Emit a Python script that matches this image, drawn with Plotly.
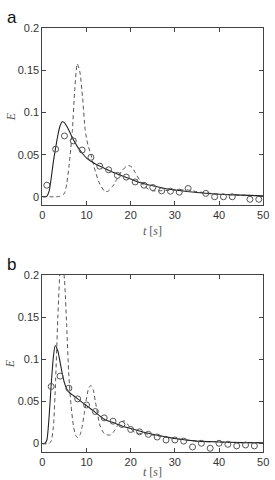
import plotly.graph_objects as go

# ---------- panel a ----------
a_solid_t = [0, 1, 1.5, 2, 2.5, 3, 3.5, 4, 4.5, 5, 5.5, 6, 7, 8, 9, 10, 12, 14, 16, 18, 20, 22, 25, 28, 30, 35, 40, 45, 50]
a_solid_E = [0, 0.0005, 0.006, 0.022, 0.042, 0.058, 0.073, 0.084, 0.089, 0.088, 0.084, 0.079, 0.068, 0.059, 0.052, 0.046, 0.039, 0.034, 0.029, 0.025, 0.021, 0.017, 0.013, 0.0095, 0.008, 0.005, 0.003, 0.002, 0.001]

a_dash_t = [0, 3, 4, 5, 5.5, 6, 6.3, 6.8, 7.3, 7.9, 8.5, 9.1, 9.7, 10.3, 11, 12, 13, 14, 14.4, 15, 16, 17, 18, 19, 19.6, 20.3, 21, 22, 23, 24, 25, 26, 28, 30, 33, 35, 40, 45, 50]
a_dash_E = [0, 0, 0.0005, 0.004, 0.015, 0.035, 0.05, 0.079, 0.125, 0.158, 0.148, 0.118, 0.079, 0.062, 0.05, 0.03, 0.015, 0.007, 0.006, 0.007, 0.013, 0.022, 0.031, 0.036, 0.037, 0.035, 0.029, 0.02, 0.013, 0.009, 0.007, 0.007, 0.0075, 0.008, 0.008, 0.006, 0.003, 0.002, 0.001]

a_pts_t = [1, 3, 5, 7, 9, 11, 13, 15, 17, 19, 21, 23, 25, 27, 29, 31, 33, 37, 39, 41, 43, 47, 49]
a_pts_E = [0.0137, 0.0566, 0.0723, 0.0664, 0.0555, 0.0469, 0.0363, 0.032, 0.0254, 0.0234, 0.0176, 0.0137, 0.011, 0.007, 0.0066, 0.0055, 0.0098, 0.004, 0.0, 0.0, 0.0, -0.003, -0.003]

# ---------- panel b ----------
b_solid_t = [0, 0.5, 1, 1.5, 2, 2.5, 2.9, 3.5, 4, 4.5, 5, 5.5, 6, 7, 8, 10, 12, 14, 16, 18, 20, 22, 25, 28, 30, 35, 40, 45, 50]
b_solid_E = [0, 0, 0.004, 0.03, 0.07, 0.103, 0.116, 0.11, 0.097, 0.083, 0.072, 0.065, 0.061, 0.057, 0.053, 0.045, 0.037, 0.029, 0.025, 0.021, 0.018, 0.015, 0.011, 0.008, 0.006, 0.003, 0.002, 0.0012, 0.001]

b_dash_t = [0, 1.5, 2, 2.5, 3, 3.5, 4, 4.4, 5, 5.5, 6, 6.5, 7, 7.5, 8, 8.5, 9, 9.5, 10, 10.5, 11, 11.5, 12, 12.5, 13, 14, 15.3, 16, 17, 18, 18.5, 19, 20, 21, 22, 23, 25, 28, 30, 35, 40, 45, 50]
b_dash_E = [0, 0, 0.003, 0.02, 0.075, 0.15, 0.205, 0.22, 0.195, 0.14, 0.08, 0.045, 0.022, 0.01, 0.007, 0.01, 0.02, 0.036, 0.054, 0.066, 0.069, 0.064, 0.05, 0.035, 0.022, 0.012, 0.01, 0.013, 0.021, 0.026, 0.027, 0.025, 0.018, 0.013, 0.012, 0.012, 0.01, 0.008, 0.006, 0.003, 0.002, 0.0012, 0.001]

b_pts_t = [2, 4, 6, 8, 10, 12, 14, 16, 18, 20, 22, 24, 26, 28, 30, 32, 34, 36, 38, 40, 42, 44, 46, 48]
b_pts_E = [0.0677, 0.080, 0.0657, 0.053, 0.0458, 0.038, 0.0305, 0.0266, 0.0227, 0.0168, 0.014, 0.011, 0.0078, 0.0043, 0.0043, 0.003, -0.004, 0.0004, -0.0055, 0.0004, -0.0008, -0.0027, -0.0016, -0.0027]

x_ticks = [0, 10, 20, 30, 40, 50]
y_ticks = [0, 0.05, 0.1, 0.15, 0.2]
y_tick_text = ["0", "0.05", "0.1", "0.15", "0.2"]

W, H = 275, 480
fig = go.Figure()

line_col = "#222222"
dash_col = "#555555"
pt_col = "#555555"

def add_panel(xa, ya, st, sE, dt, dE, pt, pE):
    fig.add_trace(go.Scatter(x=dt, y=dE, mode="lines", xaxis=xa, yaxis=ya,
                             line=dict(color=dash_col, width=1, dash="4px,3px", shape="spline", smoothing=0.6),
                             showlegend=False, hoverinfo="skip"))
    fig.add_trace(go.Scatter(x=st, y=sE, mode="lines", xaxis=xa, yaxis=ya,
                             line=dict(color=line_col, width=1.1, shape="spline", smoothing=0.6),
                             showlegend=False, hoverinfo="skip"))
    fig.add_trace(go.Scatter(x=pt, y=pE, mode="markers", xaxis=xa, yaxis=ya,
                             marker=dict(symbol="circle-open", size=6, color=pt_col, line=dict(width=1, color=pt_col)),
                             showlegend=False, hoverinfo="skip", cliponaxis=False))

add_panel("x", "y", a_solid_t, a_solid_E, a_dash_t, a_dash_E, a_pts_t, a_pts_E)
add_panel("x2", "y2", b_solid_t, b_solid_E, b_dash_t, b_dash_E, b_pts_t, b_pts_E)

left, right = 40.7 / W, 269 / W
top_dom = [1 - 201.7 / H, 1 - 22.7 / H]
bot_dom = [1 - 451.7 / H, 1 - 272.3 / H]

ax_common = dict(showgrid=False, zeroline=False, showline=True, linecolor="#444444", linewidth=1,
                 mirror="ticks", ticks="inside", ticklen=4, tickcolor="#444444", tickwidth=1,
                 ticklabeloverflow="allow",
                 tickfont=dict(family="Liberation Sans, Arial", size=11, color="#333333"))

fig.update_layout(
    width=W, height=H, margin=dict(l=0, r=0, t=0, b=0),
    paper_bgcolor="white", plot_bgcolor="white",
    xaxis=dict(domain=[left, right], range=[0, 50], tickvals=x_ticks, anchor="y", **ax_common),
    yaxis=dict(domain=top_dom, range=[-0.01, 0.2], tickvals=y_ticks, ticktext=y_tick_text, anchor="x", **ax_common),
    xaxis2=dict(domain=[left, right], range=[0, 50], tickvals=x_ticks, anchor="y2", **ax_common),
    yaxis2=dict(domain=bot_dom, range=[-0.01, 0.2], tickvals=y_ticks, ticktext=y_tick_text, anchor="x2", **ax_common),
)

lab_font = dict(family="Liberation Serif, Times New Roman", size=12, color="#555555")
ann = [
    dict(text="a", x=2 / W, y=1 - 12 / H, xanchor="left", yanchor="middle",
         font=dict(family="Liberation Sans, Arial", size=17, color="#111111")),
    dict(text="b", x=2 / W, y=1 - 262 / H, xanchor="left", yanchor="middle",
         font=dict(family="Liberation Sans, Arial", size=17, color="#111111")),
    dict(text="<i>E</i>", x=8 / W, y=1 - 112 / H, textangle=-90, xanchor="center", yanchor="middle", font=lab_font),
    dict(text="<i>E</i>", x=8 / W, y=1 - 362 / H, textangle=-90, xanchor="center", yanchor="middle", font=lab_font),
    dict(text="<i>t</i> [<i>s</i>]", x=(left + right) / 2, y=1 - 228 / H, xanchor="center", yanchor="middle", font=lab_font),
    dict(text="<i>t</i> [<i>s</i>]", x=(left + right) / 2, y=1 - 472 / H, xanchor="center", yanchor="middle", font=lab_font),
]
for a in ann:
    a.update(xref="paper", yref="paper", showarrow=False)
fig.update_layout(annotations=ann)

fig.write_html("out.html")
